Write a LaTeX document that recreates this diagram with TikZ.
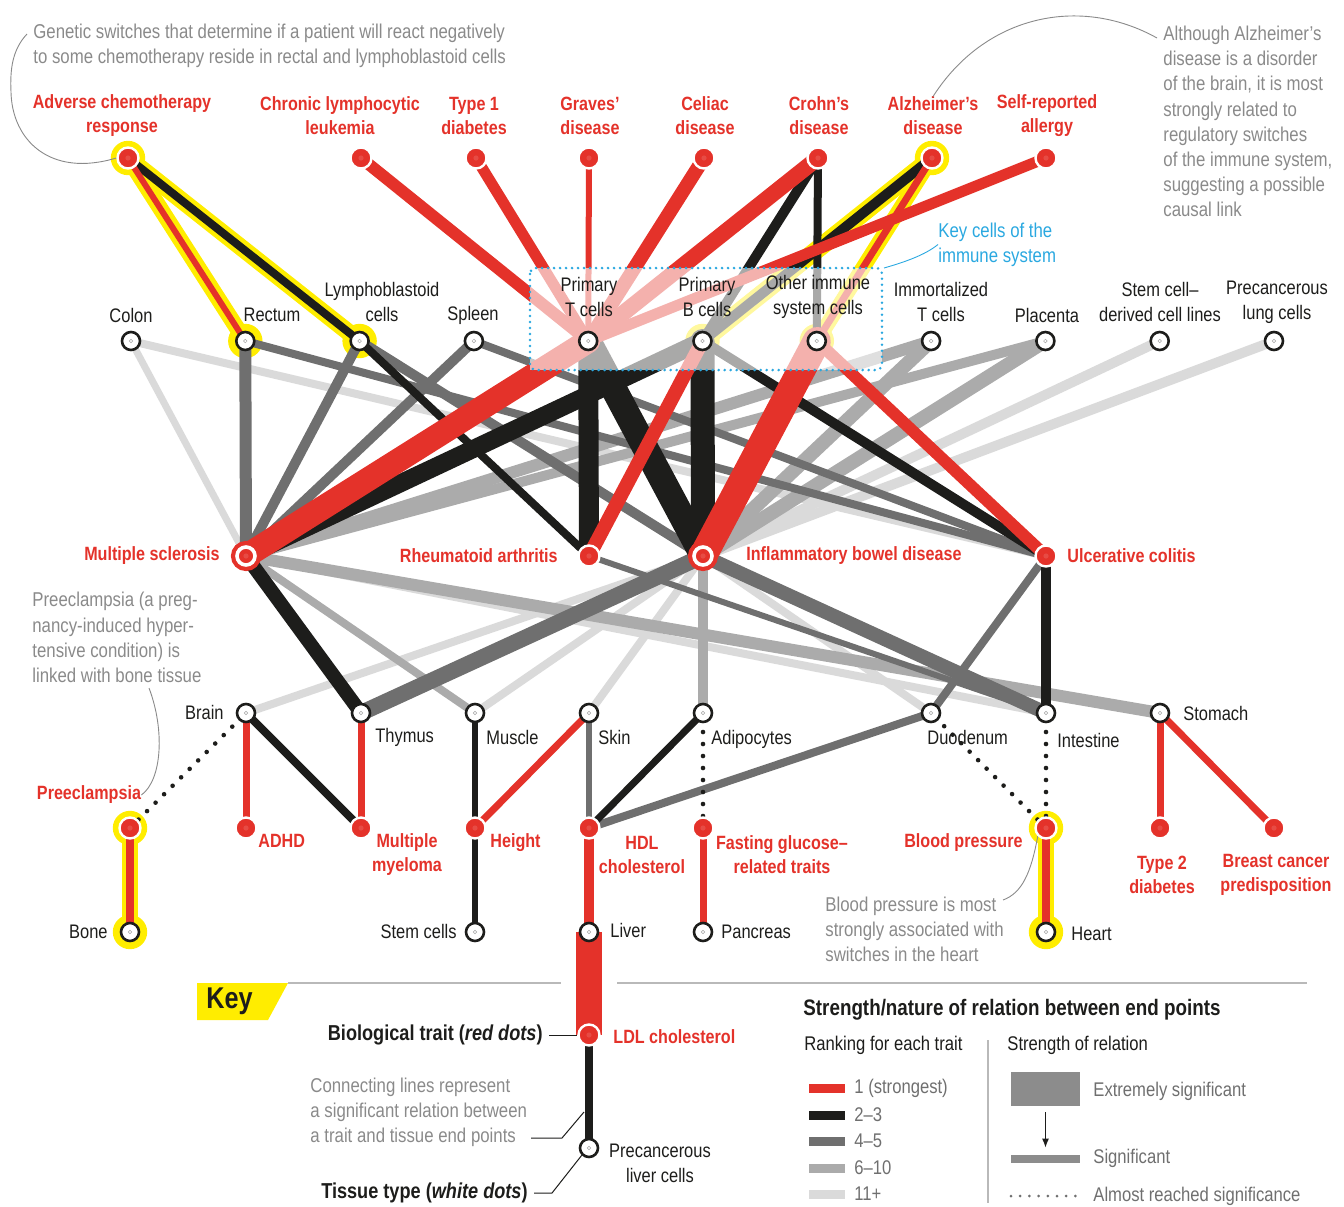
\documentclass[tikz,border=0pt]{standalone}
\usepackage{fontspec}
\setmainfont{Liberation Sans}[FakeStretch=0.84]
\usetikzlibrary{arrows.meta}

\definecolor{tred}{HTML}{E4322A}
\definecolor{tblack}{HTML}{1D1D1B}
\definecolor{tdark}{HTML}{6F6F6F}
\definecolor{tmid}{HTML}{ABABAB}
\definecolor{tlight}{HTML}{DADADA}
\definecolor{tyellow}{HTML}{FFED00}
\definecolor{tblue}{HTML}{2AA8E0}
\definecolor{tnote}{HTML}{8A8A8A}
\definecolor{tbar}{HTML}{8C8C8C}

\pgfdeclarelayer{halo}
\pgfdeclarelayer{edges}
\pgfdeclarelayer{veil}
\pgfsetlayers{halo,edges,veil,main}

\begin{document}
\begin{tikzpicture}[x=0.5pt,y=-0.5pt]

\useasboundingbox (0,0) rectangle (1344,1206);

% styles
\pgfkeys{/edge/.style={line cap=round}} % base style for connectors
\pgfkeys{/rk1/.style={/edge, draw=tred}} % rank 1 (strongest)
\pgfkeys{/rk2/.style={/edge, draw=tblack}} % rank 2-3
\pgfkeys{/rk3/.style={/edge, draw=tdark}} % rank 4-5
\pgfkeys{/rk4/.style={/edge, draw=tmid}} % rank 6-10
\pgfkeys{/rk5/.style={/edge, draw=tlight}} % rank 11+
\pgfkeys{/almost/.style={draw=tblack, line width=2.3pt, line cap=round, dash pattern=on 0pt off 6pt}} % almost significant
\pgfkeys{/glow/.style={/edge, draw=tyellow}} % yellow highlight
\pgfkeys{/trait/.style={circle, fill=tred, draw=white, line width=1.2pt, inner sep=0, minimum size=10.5pt,
  path picture={\fill[tred!88!white] (path picture bounding box.center) circle (1.3pt);}}} % red dots
\pgfkeys{/bigtrait/.style={/trait, minimum size=9pt, line width=1.8pt, preaction={draw=tred, line width=6pt}}} % red dots on wide lines
\pgfkeys{/tissue/.style={circle, fill=white, draw=tblack, line width=1.3pt, inner sep=0, minimum size=9pt,
  path picture={\draw[gray!70, line width=0.25pt] (path picture bounding box.center) circle (0.9pt);}}} % white dots
\pgfkeys{/lbl/.style={inner sep=0, align=center, text=tblack, font=\fontsize{9.8}{12.5}\selectfont}} % tissue names
\pgfkeys{/redlbl/.style={/lbl, text=tred, font=\fontsize{9.6}{12}\selectfont\bfseries}} % trait names
\pgfkeys{/note/.style={inner sep=0, align=left, anchor=west, text=tnote, font=\fontsize{10}{12.6}\selectfont}} % side notes
\pgfkeys{/keytxt/.style={inner sep=0, anchor=west, text=tblack, font=\fontsize{9.9}{12}\selectfont}} % key texts
\pgfkeys{/keybold/.style={/keytxt, font=\fontsize{10.8}{13}\selectfont\bfseries}} % key headings
\pgfkeys{/leader/.style={draw=tblack, line width=0.5pt}} % key leader lines
\pgfkeys{/curl/.style={draw=tnote, line width=0.45pt}} % note leader curves

% top row of traits
\foreach \n/\x in {acr/128, cll/361, t1d/476, graves/589, celiac/704, crohn/818, alz/932, allergy/1046}
  \node[/trait] (\n) at (\x,158) {};

% main row of tissues
\foreach \n [count=\j from 0] in {colon, rectum, lympho, spleen, pT, pB, oth, immT, plac, scl, lung}
  \node[/tissue] (\n) at ({131+114.3*\j},341) {};

% middle traits
\node[/bigtrait] (ms) at (246,556) {};
\node[/trait] (ra) at (589,556) {};
\node[/bigtrait] (ibd) at (703,556) {};
\node[/trait] (uc) at (1046,556) {};

% lower tissues
\foreach \n/\x in {brain/246, thymus/361, muscle/475, skin/589, adipo/703, duod/931, intest/1046, stomach/1160}
  \node[/tissue] (\n) at (\x,713) {};

% lower traits
\foreach \n/\x in {preec/130, adhd/246, mm/361, height/475, hdl/589, fasting/703, bp/1046, t2d/1160, breast/1274}
  \node[/trait] (\n) at (\x,828) {};

% bottom tissues
\foreach \n/\x in {bone/130, stemc/475, liver/589, pancreas/703, heart/1046}
  \node[/tissue] (\n) at (\x,932) {};

% key end points
\node[/trait] (ldl) at (589,1035) {};
\node[/tissue] (precliver) at (589,1148) {};

% yellow highlights
\begin{pgfonlayer}{halo}
\foreach \n in {acr, rectum, lympho, alz, pB, oth, preec, bone, bp, heart}
  \fill[tyellow] (\n) circle (8.6pt);
\foreach \a/\b/\w in {acr/rectum/8, acr/lympho/8.5, alz/pB/9, alz/oth/7.5, preec/bone/8, bp/heart/8}
  \draw[/glow, line width=\w pt] (\a.center) -- (\b.center);
\end{pgfonlayer}

% connectors, faint ranks first
\begin{pgfonlayer}{edges}
\foreach \a/\b/\w in {colon/ms/3.5, colon/uc/4, scl/ibd/5, lung/ibd/5, ms/intest/4,
    ibd/brain/4, ibd/muscle/4, ibd/skin/4, ibd/duod/4}
  \draw[/rk5, line width=\w pt] (\a.center) -- (\b.center);
\foreach \a/\b/\w in {immT/ms/6, plac/ms/5, immT/ibd/7, plac/ibd/7, ms/muscle/4, ms/stomach/6, ibd/adipo/5}
  \draw[/rk4, line width=\w pt] (\a.center) -- (\b.center);
\foreach \a/\b/\w in {rectum/ms/6, lympho/ms/5, spleen/ms/5, rectum/uc/4, spleen/uc/4, lympho/ibd/5,
    ibd/thymus/8, ibd/intest/7, ra/intest/3, uc/duod/4, hdl/skin/3, hdl/duod/4}
  \draw[/rk3, line width=\w pt] (\a.center) -- (\b.center);
\foreach \a/\b/\w in {acr/lympho/4, crohn/pB/5, crohn/oth/4, alz/pB/5, pB/ms/9, lympho/ra/4,
    pT/ra/10, pT/ibd/13, pB/ibd/12, pB/uc/5, ms/thymus/7, uc/intest/5, mm/brain/4,
    height/muscle/3, height/stemc/3, hdl/adipo/3.5, ldl/precliver/4}
  \draw[/rk2, line width=\w pt] (\a.center) -- (\b.center);
\foreach \a/\b/\w in {acr/rectum/3, cll/pT/6, t1d/pT/5.5, graves/pT/3, celiac/pT/7, crohn/pT/8,
    alz/oth/3.5, allergy/pT/5.5, pT/ms/12, pB/ra/7, oth/ibd/14, oth/uc/6, preec/bone/4,
    adhd/brain/3.5, mm/thymus/3.5, height/skin/3.5, hdl/liver/5, fasting/pancreas/3.5,
    bp/heart/4, t2d/stomach/3.5, breast/stomach/3.5}
  \draw[/rk1, line width=\w pt] (\a.center) -- (\b.center);
\draw[/rk1, line width=13pt, line cap=butt] (liver.center) -- (ldl.center);
\foreach \a/\b in {preec/brain, fasting/adipo, bp/duod, bp/intest}
  \draw[/almost] (\a.center) -- (\b.center);
\end{pgfonlayer}

% key cells box
\begin{pgfonlayer}{veil}
\fill[white, opacity=0.62] (530,268) rectangle (882,370);
\draw[tblue, line width=1.4pt, line cap=round, dash pattern=on 0pt off 3pt, rounded corners=3pt]
  (530,268) rectangle (882,370);
\end{pgfonlayer}

% trait names
\node[/redlbl] (acrL) at (122,116) {Adverse chemotherapy\\response};
\node[/redlbl] (cllL) at (340,116) {Chronic lymphocytic\\leukemia};
\node[/redlbl] (t1dL) at (474,116) {Type 1\\diabetes};
\node[/redlbl] (gravesL) at (590,116) {Graves’\\disease};
\node[/redlbl] (celiacL) at (705,116) {Celiac\\disease};
\node[/redlbl] (crohnL) at (819,116) {Crohn’s\\disease};
\node[/redlbl] (alzL) at (933,116) {Alzheimer’s\\disease};
\node[/redlbl] (allergyL) at (1047,116) {Self-reported\\allergy};
\node[/redlbl, anchor=east] (msL) at (220,556) {Multiple sclerosis};
\node[/redlbl, anchor=east] (raL) at (558,556) {Rheumatoid arthritis};
\node[/redlbl, anchor=west] (ibdL) at (746,556) {Inflammatory bowel disease};
\node[/redlbl, anchor=west] (ucL) at (1067,556) {Ulcerative colitis};
\node[/redlbl] (preecL) at (89,795) {Preeclampsia};
\node[/redlbl, anchor=west] (adhdL) at (258,841) {ADHD};
\node[/redlbl] (mmL) at (407,855) {Multiple\\myeloma};
\node[/redlbl, anchor=west] (heightL) at (490,843) {Height};
\node[/redlbl] (hdlL) at (642,855) {HDL\\cholesterol};
\node[/redlbl] (fastingL) at (782,855) {Fasting glucose–\\related traits};
\node[/redlbl, anchor=east] (bpL) at (1023,843) {Blood pressure};
\node[/redlbl] (t2dL) at (1162,875) {Type 2\\diabetes};
\node[/redlbl] (breastL) at (1276,875) {Breast cancer\\predisposition};
\node[/redlbl, anchor=west] (ldlL) at (613,1037) {LDL cholesterol};

% tissue names
\node[/lbl] (colonL) at (131,315) {Colon};
\node[/lbl] (rectumL) at (272,315) {Rectum};
\node[/lbl] (lymphoL) at (382,302) {Lymphoblastoid\\cells};
\node[/lbl] (spleenL) at (473,315) {Spleen};
\node[/lbl] (pTL) at (589,297) {Primary\\T cells};
\node[/lbl] (pBL) at (707,297) {Primary\\B cells};
\node[/lbl] (othL) at (818,297) {Other immune\\system cells};
\node[/lbl] (immTL) at (941,302) {Immortalized\\T cells};
\node[/lbl] (placL) at (1047,315) {Placenta};
\node[/lbl] (sclL) at (1160,302) {Stem cell–\\derived cell lines};
\node[/lbl] (lungL) at (1277,302) {Precancerous\\lung cells};
\node[/lbl, anchor=east] (brainL) at (224,712) {Brain};
\node[/lbl, anchor=west] (thymusL) at (375,737) {Thymus};
\node[/lbl, anchor=west] (muscleL) at (486,737) {Muscle};
\node[/lbl, anchor=west] (skinL) at (598,737) {Skin};
\node[/lbl, anchor=west] (adipoL) at (711,739) {Adipocytes};
\node[/lbl, anchor=west] (duodL) at (927,737) {Duodenum};
\node[/lbl, anchor=west] (intestL) at (1057,740) {Intestine};
\node[/lbl, anchor=west] (stomachL) at (1183,713) {Stomach};
\node[/lbl, anchor=east] (boneL) at (108,932) {Bone};
\node[/lbl, anchor=east] (stemcL) at (457,931) {Stem cells};
\node[/lbl, anchor=west] (liverL) at (610,930) {Liver};
\node[/lbl, anchor=west] (pancreasL) at (721,932) {Pancreas};
\node[/lbl, anchor=west] (heartL) at (1071,934) {Heart};
\node[/lbl] (preclL) at (660,1163) {Precancerous\\liver cells};

% side notes
\node[/note] (noteChemo) at (33,45.5) {Genetic switches that determine if a patient will react negatively\\to some chemotherapy reside in rectal and lymphoblastoid cells};
\draw[/curl] (27,34) .. controls (12,50) and (10,70) .. (11,92) .. controls (12,140) and (50,178) .. (acr.west);
\node[/note] (noteAlz) at (1163,121.5) {Although Alzheimer’s\\disease is a disorder\\of the brain, it is most\\strongly related to\\regulatory switches\\of the immune system,\\suggesting a possible\\causal link};
\draw[/curl] (1157,38) .. controls (1080,-5) and (985,15) .. (alzL.north);
\node[/note, text=tblue] (noteKey) at (938,244.5) {Key cells of the\\immune system};
\draw[tblue, line width=0.45pt] (884,268) .. controls (905,262) and (925,255) .. (noteKey.west);
\node[/note] (notePre) at (32,637.5) {Preeclampsia (a preg-\\nancy-induced hyper-\\tensive condition) is\\linked with bone tissue};
\draw[/curl] (149,688) .. controls (165,730) and (162,780) .. (preecL.east);
\node[/note] (noteBP) at (825,929.5) {Blood pressure is most\\strongly associated with\\switches in the heart};
\draw[/curl] (1003,900) .. controls (1022,893) and (1031,873) .. (bp.south west);

% key
\fill[tyellow] (197,983) -- (288,983) -- (268,1020) -- (197,1020) -- cycle;
\node[/keytxt, font=\fontsize{15}{17}\selectfont\bfseries] (keyTag) at (206,1001) {Key};
\draw[tlight!85!black, line width=0.6pt] (288,983) -- (561,983) (617,983) -- (1307,983);
\draw[tlight!85!black, line width=0.6pt] (988,1040) -- (988,1203);
\node[/keybold, anchor=east] (bioL) at (543,1035) {Biological trait (\textit{red dots})};
\draw[/leader] ([xshift=3pt]bioL.east) -- (ldl.west);
\node[/note] (noteConn) at (310,1112.5) {Connecting lines represent\\a significant relation between\\a trait and tissue end points};
\coordinate (connEnd) at (531,1138);
\coordinate (connPt) at (584,1112);
\draw[/leader] (connEnd) -- (562,1138) -- (connPt);
\node[/keybold, anchor=east] (tisL) at (528,1193) {Tissue type (\textit{white dots})};
\draw[/leader] ([xshift=3pt]tisL.east) -- (552,1193) -- (precliver.south west);

% legend
\node[/keybold, font=\fontsize{11.2}{13}\selectfont\bfseries] (legTitle) at (803,1010) {Strength/nature of relation between end points};
\node[/keytxt] (legRank) at (804,1045) {Ranking for each trait};
\node[/keytxt] (legStr) at (1007,1045) {Strength of relation};
\foreach \c/\t [count=\k from 0] in {tred/1 (strongest), tblack/2–3, tdark/4–5, tmid/6–10, tlight/11+} {
  \fill[\c] (809,{1084+26.5*\k}) rectangle (845,{1093+26.5*\k});
  \node[/keytxt, text=tdark] (rank\k) at (854,{1088+26.5*\k}) {\t};
}
\node[fill=tbar, inner sep=0, minimum width=34.5pt, minimum height=17pt] (bigbar) at (1045.5,1089) {};
\node[fill=tbar, inner sep=0, minimum width=34.5pt, minimum height=4pt] (smallbar) at (1045.5,1159) {};
\draw[-{Latex[length=4.5pt,width=3.5pt]}, line width=0.6pt, tblack] ([yshift=-3pt]bigbar.south) -- ([yshift=3.5pt]smallbar.north);
\node[/keytxt, text=tdark] (extL) at (1093,1091) {Extremely significant};
\node[/keytxt, text=tdark] (sigL) at (1093,1158) {Significant};
\coordinate (dotA) at (1011,1196);
\coordinate (dotB) at (1078,1196);
\draw[tdark, line width=1.5pt, line cap=round, dash pattern=on 0pt off 4.6pt] (dotA) -- (dotB);
\node[/keytxt, text=tdark] (almL) at (1093,1196) {Almost reached significance};

\end{tikzpicture}
\end{document}
